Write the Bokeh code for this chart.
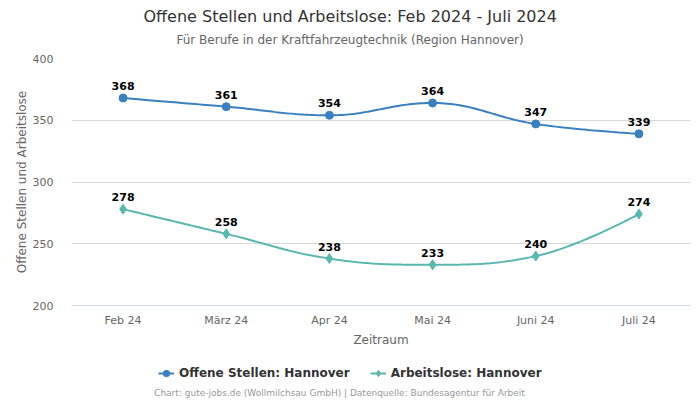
import numpy as np
from bokeh.plotting import figure
from bokeh.layouts import column
from bokeh.models import (Range1d, FixedTicker, Title, Legend, LegendItem, ColumnDataSource, Label)
from bokeh.core.properties import value
from bokeh.embed import file_html
from bokeh.resources import INLINE

# ---- data ----
categories = ["Feb 24", "März 24", "Apr 24", "Mai 24", "Juni 24", "Juli 24"]
offene_stellen = [368, 361, 354, 364, 347, 339]
arbeitslose = [278, 258, 238, 233, 240, 274]
series_names = ["Offene Stellen: Hannover", "Arbeitslose: Hannover"]
title_text = "Offene Stellen und Arbeitslose: Feb 2024 - Juli 2024"
subtitle_text = "Für Berufe in der Kraftfahrzeugtechnik (Region Hannover)"
credits_text = "Chart: gute-jobs.de (Wollmilchsau GmbH) | Datenquelle: Bundesagentur für Arbeit"
y_ticks = [200, 250, 300, 350, 400]

FONT = "DejaVu Sans"
BLUE = "#3a80c0"
TEAL = "#5ab7ae"


def spline(xs, ys, steps=40):
    """Highcharts-style spline (smoothing 1.5) sampled from cubic beziers."""
    n = len(xs)
    lc = [None] * n
    rc = [None] * n
    sm = 1.5
    den = sm + 1
    for i in range(1, n - 1):
        px, py = xs[i], ys[i]
        lx, ly = xs[i - 1], ys[i - 1]
        nx, ny = xs[i + 1], ys[i + 1]
        lcx = (sm * px + lx) / den
        lcy = (sm * py + ly) / den
        rcx = (sm * px + nx) / den
        rcy = (sm * py + ny) / den
        corr = 0.0
        if rcx != lcx:
            corr = ((rcy - lcy) * (rcx - px)) / (rcx - lcx) + py - rcy
        lcy += corr
        rcy += corr
        if lcy > ly and lcy > py:
            lcy = max(ly, py); rcy = 2 * py - lcy
        elif lcy < ly and lcy < py:
            lcy = min(ly, py); rcy = 2 * py - lcy
        if rcy > ny and rcy > py:
            rcy = max(ny, py); lcy = 2 * py - rcy
        elif rcy < ny and rcy < py:
            rcy = min(ny, py); lcy = 2 * py - rcy
        lc[i] = (lcx, lcy)
        rc[i] = (rcx, rcy)
    outx, outy = [xs[0]], [ys[0]]
    t = np.linspace(0, 1, steps)[1:]
    for i in range(1, n):
        p0 = np.array([xs[i - 1], ys[i - 1]], float)
        p3 = np.array([xs[i], ys[i]], float)
        c1 = np.array(rc[i - 1] if rc[i - 1] else p0, float)
        c2 = np.array(lc[i] if lc[i] else p3, float)
        for tt in t:
            pt = ((1 - tt) ** 3) * p0 + 3 * ((1 - tt) ** 2) * tt * c1 + 3 * (1 - tt) * tt ** 2 * c2 + tt ** 3 * p3
            outx.append(pt[0]); outy.append(pt[1])
    return outx, outy


xs = list(range(len(categories)))
styles = [(BLUE, "circle", 8), (TEAL, "diamond", 10)]

# ---------------- main chart ----------------
p = figure(width=700, height=355, output_backend="svg", toolbar_location=None,
           title=None,
           x_range=Range1d(-0.5, len(categories) - 0.5), y_range=Range1d(200, 400),
           min_border_left=71, min_border_right=10, min_border_top=0, min_border_bottom=50)
p.outline_line_color = None
p.background_fill_color = "white"
p.border_fill_color = "white"

p.xaxis.ticker = FixedTicker(ticks=xs)
p.xaxis.major_label_overrides = {i: c for i, c in enumerate(categories)}
p.xaxis.axis_line_color = "#ccd6eb"
p.xaxis.major_tick_line_color = None
p.xaxis.minor_tick_line_color = None
p.xaxis.major_label_text_font = FONT
p.xaxis.major_label_text_font_size = "11px"
p.xaxis.major_label_text_color = "#666666"
p.xaxis.major_label_standoff = 2
p.xaxis.axis_label = "Zeitraum"
p.xaxis.axis_label_text_font = FONT
p.xaxis.axis_label_text_font_size = "12px"
p.xaxis.axis_label_text_font_style = "normal"
p.xaxis.axis_label_text_color = "#666666"
p.xaxis.axis_label_standoff = 3

p.yaxis.ticker = FixedTicker(ticks=y_ticks)
p.yaxis.axis_line_color = None
p.yaxis.major_tick_line_color = None
p.yaxis.minor_tick_line_color = None
p.yaxis.major_label_text_font = FONT
p.yaxis.major_label_text_font_size = "11px"
p.yaxis.major_label_text_color = "#666666"
p.yaxis.major_label_standoff = 12
p.yaxis.axis_label = "Offene Stellen und Arbeitslose"
p.yaxis.axis_label_text_font = FONT
p.yaxis.axis_label_text_font_size = "12px"
p.yaxis.axis_label_text_font_style = "normal"
p.yaxis.axis_label_text_color = "#666666"
p.yaxis.axis_label_standoff = 1

p.xgrid.grid_line_color = None
p.ygrid.grid_line_color = "#d8d8d8"
p.ygrid.ticker = FixedTicker(ticks=y_ticks)

for vals, (color, marker, msize) in zip([offene_stellen, arbeitslose], styles):
    sx, sy = spline(xs, vals)
    p.line(sx, sy, line_color=color, line_width=2)
    src = ColumnDataSource(dict(x=xs, y=vals, lab=[str(v) for v in vals]))
    p.scatter("x", "y", source=src, marker=marker, size=msize,
              fill_color=color, line_color=color)
    p.text("x", "y", text="lab", source=src, text_font=value(FONT),
           text_font_size="11px", text_font_style="bold", text_color="black",
           text_align="center", text_baseline="middle", y_offset=-12)

# titles: spacer (closest to frame), subtitle, main title
p.add_layout(Title(text=" ", text_font_size="2px", standoff=6), "above")
p.add_layout(Title(text=subtitle_text, align="left", offset=105, standoff=3,
                   text_font=FONT, text_font_size="12px", text_font_style="normal",
                   text_color="#666666"), "above")
p.add_layout(Title(text=title_text, align="left", offset=72, standoff=8,
                   text_font=FONT, text_font_size="16px", text_font_style="normal",
                   text_color="#333333"), "above")

# ---------------- legend + credits strip ----------------
# (the strip's frame is aligned with the chart's frame: 71..690 px)
q = figure(width=700, height=45, output_backend="svg", toolbar_location=None,
           title=None, x_range=Range1d(71, 690), y_range=Range1d(0, 45),
           x_axis_location=None, y_axis_location=None,
           min_border_left=0, min_border_right=0, min_border_top=0, min_border_bottom=0)
q.outline_line_color = None
q.grid.visible = False
q.background_fill_color = "white"
q.border_fill_color = "white"

items = []
for name, (color, marker, msize) in zip(series_names, styles):
    ln = q.line([np.nan], [np.nan], line_color=color, line_width=2)
    sc = q.scatter([np.nan], [np.nan], marker=marker, size=msize, fill_color=color, line_color=color)
    items.append(LegendItem(label=name, renderers=[ln, sc]))

legend = Legend(items=items, orientation="horizontal", location=(87, 19),
                border_line_color=None, background_fill_alpha=0,
                padding=0, margin=0, spacing=20, label_standoff=5,
                glyph_width=16, glyph_height=16, label_height=16,
                label_text_font=FONT, label_text_font_size="12px",
                label_text_font_style="bold", label_text_color="#333333")
q.add_layout(legend, "center")

q.add_layout(Label(x=339, y=8, text=credits_text, text_font=FONT, text_font_size="9px",
                   text_color="#999999", text_align="center", text_baseline="middle"))

open("out.html", "w").write(file_html(column(p, q, spacing=0), INLINE))
